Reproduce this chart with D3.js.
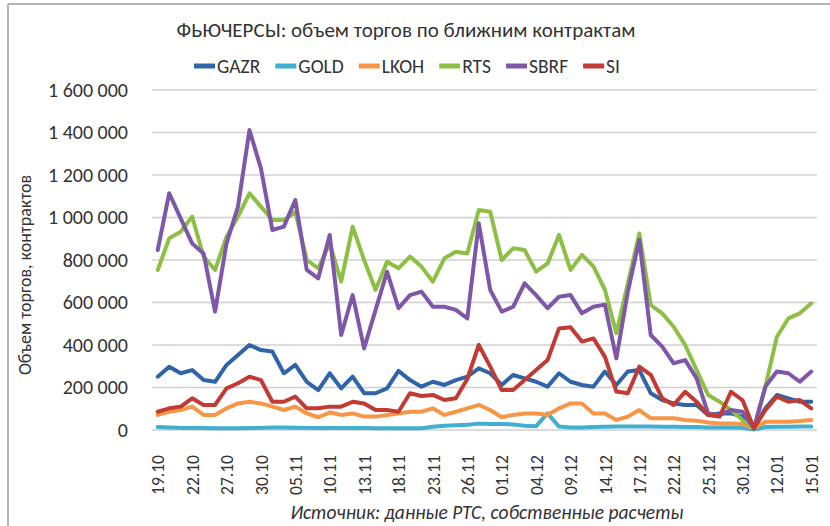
<!DOCTYPE html>
<html><head><meta charset="utf-8">
<script src="https://cdn.jsdelivr.net/npm/d3@7"></script>
<style>
body{margin:0;background:#fff}
svg{display:block}
text{font-family:Carlito,Calibri,Lato,"Open Sans",sans-serif;fill:#333}
</style>
</head><body>
<svg id="chart" width="830" height="526"></svg>
<script>
const chartTitle = "ФЬЮЧЕРСЫ: объем торгов по ближним контрактам";
const yAxisTitle = "Объем торгов, контрактов";
const sourceNote = "Источник: данные РТС, собственные расчеты";

const dates = ["19.10","20.10","21.10","22.10","23.10","26.10","27.10","28.10","29.10","30.10",
"02.11","03.11","05.11","06.11","09.11","10.11","11.11","12.11","13.11","16.11","17.11","18.11","19.11","20.11","23.11","24.11","25.11","26.11","27.11","30.11",
"01.12","02.12","03.12","04.12","07.12","08.12","09.12","10.12","11.12","14.12","15.12","16.12","17.12","18.12","21.12","22.12","23.12","24.12","25.12","28.12","29.12","30.12","31.12",
"11.01","12.01","13.01","14.01","15.01"];

const seriesNames = ["GAZR","GOLD","LKOH","RTS","SBRF","SI"];
const seriesColors = ["#2f64a9","#41afd0","#f79646","#8dbf45","#7e57a8","#c23b33"];

const gazr = [251000,298000,267000,282000,235000,227000,306000,353000,400000,376000,369000,267000,306000,227000,188000,267000,196000,251000,173000,173000,196000,278000,235000,204000,227000,212000,235000,251000,290000,267000,212000,259000,243000,227000,204000,267000,227000,212000,204000,275000,212000,275000,282000,173000,141000,125000,118000,118000,71000,78000,78000,63000,8000,102000,165000,149000,133000,133000];
const gold = [14000,12000,10000,10000,9000,8000,8000,8000,9000,10000,12000,12000,11000,10000,10000,10000,9000,9000,9000,8000,8000,8000,8000,8000,15000,20000,22000,25000,30000,28000,28000,26000,20000,18000,78000,16000,12000,12000,14000,15000,16000,16000,16000,16000,15000,15000,14000,14000,12000,12000,12000,10000,2000,14000,15000,15000,16000,16000];
const lkoh = [71000,86000,94000,110000,71000,71000,102000,125000,133000,125000,110000,94000,110000,78000,60000,82000,71000,78000,63000,63000,71000,78000,86000,86000,102000,71000,86000,102000,118000,94000,60000,71000,78000,78000,71000,102000,125000,125000,78000,78000,47000,63000,94000,55000,55000,55000,47000,44000,35000,31000,31000,28000,8000,39000,39000,39000,42000,47000];
const rts = [753000,902000,933000,1004000,816000,753000,910000,1004000,1114000,1051000,988000,988000,1027000,800000,761000,878000,698000,957000,800000,659000,792000,761000,816000,769000,698000,808000,839000,831000,1035000,1027000,800000,855000,847000,745000,784000,918000,753000,824000,770000,660000,455000,690000,925000,588000,549000,486000,400000,282000,165000,133000,94000,47000,8000,204000,439000,525000,549000,596000];
const sbrf = [847000,1114000,996000,878000,831000,557000,878000,1051000,1412000,1231000,941000,957000,1082000,753000,714000,918000,447000,635000,384000,565000,745000,573000,635000,651000,580000,580000,565000,525000,973000,659000,557000,580000,690000,635000,573000,627000,635000,549000,580000,590000,337000,650000,894000,447000,392000,314000,329000,243000,78000,71000,94000,86000,8000,204000,275000,267000,227000,275000];
const si = [86000,102000,110000,149000,118000,118000,196000,220000,251000,235000,133000,133000,157000,102000,102000,110000,110000,133000,125000,94000,94000,86000,173000,160000,165000,141000,149000,240000,400000,298000,188000,188000,235000,282000,329000,478000,483000,416000,431000,345000,181000,173000,298000,259000,149000,118000,180000,133000,71000,63000,180000,141000,8000,94000,157000,133000,141000,102000];

const yTicks = [0,200000,400000,600000,800000,1000000,1200000,1400000,1600000];
const xTickLabels = dates.filter((d,i)=>i%3===0);

const seriesValues = [gazr,gold,lkoh,rts,sbrf,si];

const FONT = 'Carlito,Calibri,Lato,"Open Sans",sans-serif';
const svg = d3.select("#chart");
const W = 830, H = 526;
const m = {left:152, right:13, top:90, bottom:96};
const iw = W - m.left - m.right, ih = H - m.top - m.bottom;

// chart border (top and left edges visible)
svg.append("line").attr("x1",8).attr("x2",W).attr("y1",4).attr("y2",4).attr("stroke","#b5b5b5").attr("stroke-width",2);
svg.append("line").attr("x1",8).attr("x2",8).attr("y1",4).attr("y2",H).attr("stroke","#b5b5b5").attr("stroke-width",2);

const x = d3.scalePoint().domain(dates).range([m.left, m.left+iw]).padding(0.5);
const y = d3.scaleLinear().domain([0,1600000]).range([m.top+ih, m.top]);

const loc = d3.formatLocale({decimal:",", thousands:"\u00a0", grouping:[3], currency:["",""]});
const fmt = loc.format(",d");

// gridlines
svg.append("g").selectAll("line").data(yTicks).join("line")
  .attr("x1",m.left).attr("x2",m.left+iw)
  .attr("y1",d=>y(d)).attr("y2",d=>y(d))
  .attr("stroke","#d0d0d0").attr("stroke-width",1.5);

// y axis labels
const yAxis = svg.append("g").attr("transform",`translate(${m.left},0)`)
  .call(d3.axisLeft(y).tickValues(yTicks).tickFormat(fmt).tickSize(0).tickPadding(24));
yAxis.select(".domain").remove();
yAxis.selectAll("text").style("font-size","20px").attr("fill","#333").style("font-family",FONT);

// x axis labels
const xAxis = svg.append("g").attr("transform",`translate(0,${m.top+ih})`)
  .call(d3.axisBottom(x).tickValues(xTickLabels).tickSize(0).tickPadding(0));
xAxis.select(".domain").remove();
xAxis.selectAll("text")
  .attr("transform","rotate(-90)")
  .attr("x",-25).attr("y",0).attr("dy","0.35em")
  .style("text-anchor","end").style("font-size","17.5px").attr("fill","#333")
  .style("font-family",FONT);

// lines
const line = d3.line().x((d,i)=>x(dates[i])).y(d=>y(d));
svg.append("g").selectAll("path").data(seriesValues).join("path")
  .attr("d",line).attr("fill","none")
  .attr("stroke",(d,i)=>seriesColors[i]).attr("stroke-width",4)
  .attr("stroke-linejoin","round").attr("stroke-linecap","round");

// title
svg.append("text").attr("x",406).attr("y",37).attr("text-anchor","middle")
  .style("font-size","21px").text(chartTitle);

// legend
const lg = svg.append("g");
let cx = 0;
seriesNames.forEach((n,i)=>{
  const g = lg.append("g").attr("transform",`translate(${cx},0)`);
  g.append("line").attr("x1",0).attr("x2",21).attr("y1",0).attr("y2",0)
    .attr("stroke",seriesColors[i]).attr("stroke-width",5);
  const t = g.append("text").attr("x",23).attr("y",0).attr("dy","0.35em")
    .style("font-size","19.5px").text(n);
  cx += 23 + t.node().getComputedTextLength() + 15;
});
const lw = cx - 15;
lg.attr("transform",`translate(${407 - lw/2},66)`);

// y axis title
svg.append("text").attr("transform","translate(25,275) rotate(-90)")
  .attr("text-anchor","middle").attr("dy","0.35em")
  .style("font-size","18px").text(yAxisTitle);

// source note
svg.append("text").attr("x",487).attr("y",519).attr("text-anchor","middle")
  .style("font-size","19.5px").style("font-style","italic").text(sourceNote);
</script>
</body></html>
